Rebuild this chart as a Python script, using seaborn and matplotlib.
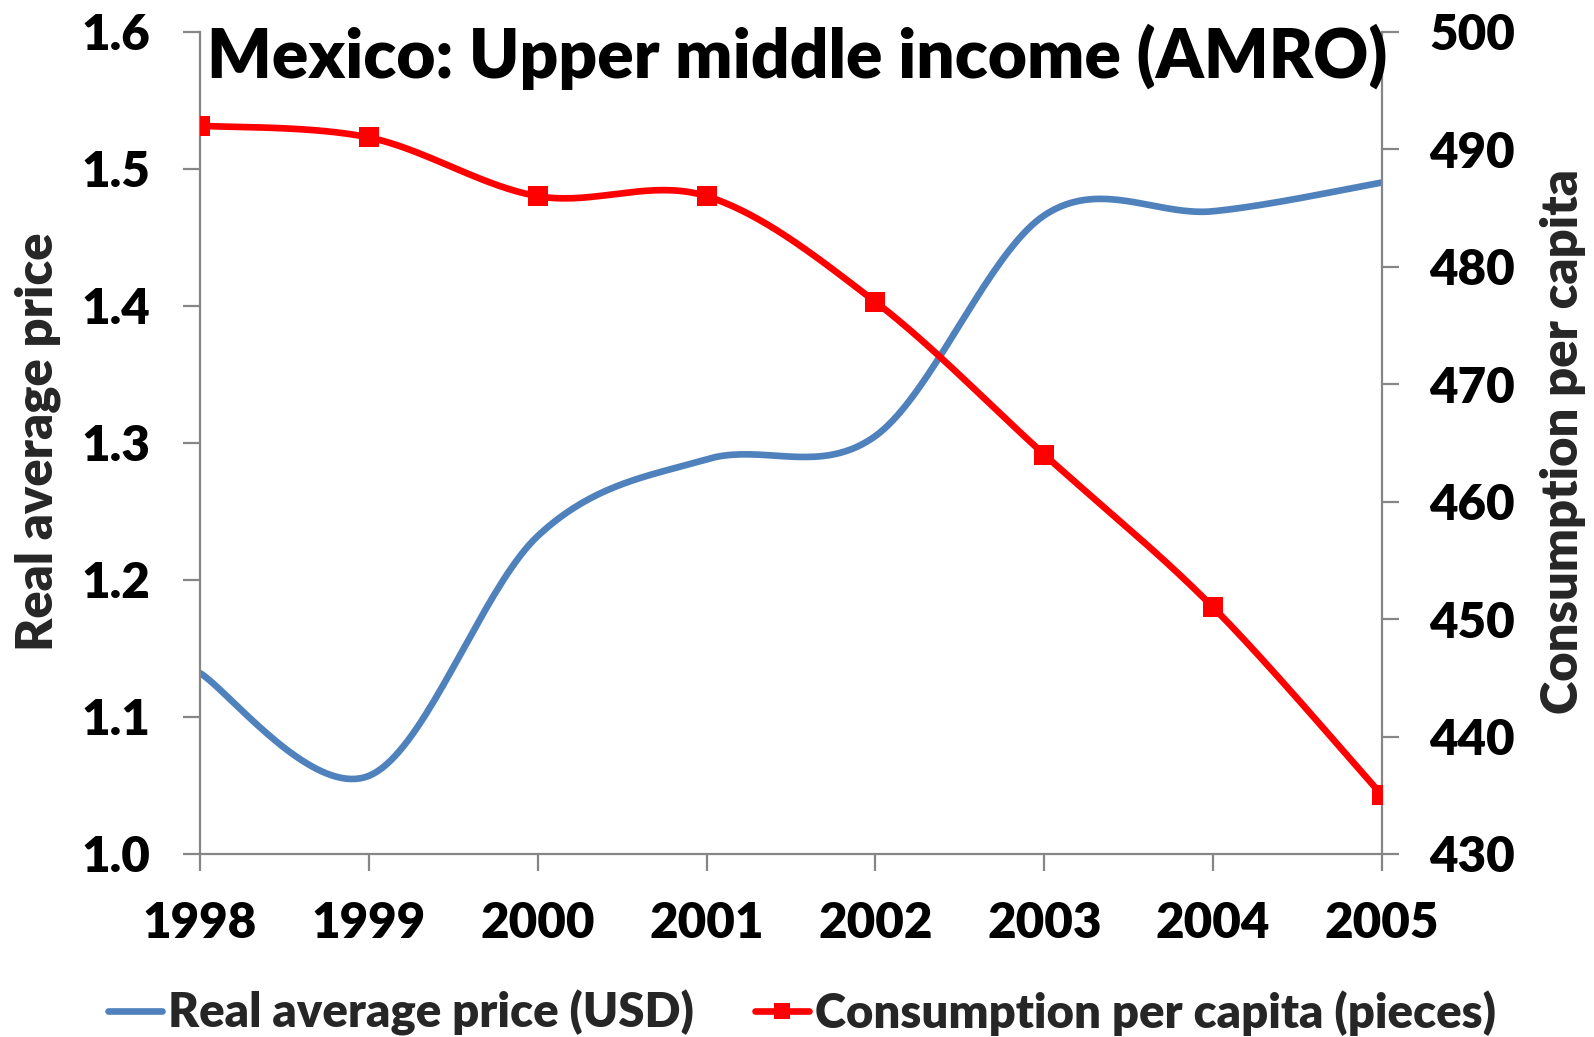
import numpy as np
import pandas as pd
import matplotlib
matplotlib.use("Agg")
import matplotlib.pyplot as plt
import seaborn as sns
from matplotlib.lines import Line2D

# Data
years = ["1998", "1999", "2000", "2001", "2002", "2003", "2004", "2005"]
price = [1.132, 1.057, 1.232, 1.288, 1.305, 1.466, 1.469, 1.490]
consumption = [492, 491, 486, 486, 477, 464, 451, 435]

title = "Mexico: Upper middle income (AMRO)"
price_label = "Real average price (USD)"
cons_label = "Consumption per capita (pieces)"

BLUE = "#4F81BD"
RED = "#FF0000"
GREY = "#868686"
FONT = "Lato"
WEIGHT = "heavy"
FAMILY = [FONT, "DejaVu Sans"]


def smooth_curve(xv, yv, n=40):
    """Cubic Bezier smoothing through every point (Catmull-Rom style)."""
    x = np.asarray(xv, float)
    y = np.asarray(yv, float)
    px = np.concatenate([[x[0]], x, [x[-1]]])
    py = np.concatenate([[y[0]], y, [y[-1]]])
    t = np.linspace(0, 1, n)[:, None]
    out = []
    for i in range(len(x) - 1):
        p_prev = np.array([px[i], py[i]])
        p0 = np.array([px[i + 1], py[i + 1]])
        p3 = np.array([px[i + 2], py[i + 2]])
        p_next = np.array([px[i + 3], py[i + 3]])
        c1 = p0 + (p3 - p_prev) / 6.0
        c2 = p3 - (p_next - p0) / 6.0
        seg = ((1 - t) ** 3) * p0 + 3 * ((1 - t) ** 2) * t * c1 \
            + 3 * (1 - t) * t ** 2 * c2 + t ** 3 * p3
        out.append(seg if i == 0 else seg[1:])
    pts = np.vstack(out)
    return pts[:, 0], pts[:, 1]


sns.set_theme(style="white")
plt.rcParams["font.family"] = FAMILY
plt.rcParams["font.weight"] = WEIGHT

xpos = np.arange(len(years))
df = pd.DataFrame({"pos": xpos, "year": years, "price": price,
                   "consumption": consumption})

sx, sy = smooth_curve(df["pos"], df["price"])
cx, cy = smooth_curve(df["pos"], df["consumption"])

fig = plt.figure(figsize=(15.94, 10.37), dpi=100)
ax = fig.add_axes([0.1255, 0.1765, 0.867 - 0.1255, 0.9694 - 0.1765])
ax2 = ax.twinx()

sns.lineplot(x=sx, y=sy, ax=ax, sort=False, estimator=None,
             color=BLUE, linewidth=4.8, legend=False)
sns.lineplot(x=cx, y=cy, ax=ax2, sort=False, estimator=None,
             color=RED, linewidth=4.8, legend=False)
sns.scatterplot(data=df, x="pos", y="consumption", ax=ax2, marker="s",
                s=190, color=RED, edgecolor=RED, linewidth=0, legend=False,
                zorder=5)

ax.set_xlim(0, len(years) - 1)
ax.set_ylim(1.0, 1.6)
ax2.set_ylim(430, 500)
ax.set_xticks(xpos)
ax.set_xticklabels(years)
ax.set_yticks(np.arange(1.0, 1.61, 0.1))
ax.set_yticklabels([f"{v:.1f}" for v in np.arange(1.0, 1.61, 0.1)])
ax2.set_yticks(np.arange(430, 501, 10))
ax.set_xlabel("")
ax.set_ylabel("")
ax2.set_xlabel("")
ax2.set_ylabel("")

for a in (ax, ax2):
    a.spines["top"].set_visible(False)
    for side in ("left", "bottom", "right"):
        a.spines[side].set_color(GREY)
        a.spines[side].set_linewidth(1.6)
    a.grid(False)

ax.spines["right"].set_visible(False)
ax2.spines["left"].set_visible(False)
ax2.spines["bottom"].set_visible(False)

ax.tick_params(axis="x", direction="out", length=12, width=1.6, color=GREY,
               pad=22, bottom=True)
ax.tick_params(axis="y", direction="out", length=12, width=1.6, color=GREY,
               pad=24, left=True)
ax2.tick_params(axis="y", direction="out", length=12, width=1.6, color=GREY,
                pad=22, right=True)
for lab in ax.get_xticklabels() + ax.get_yticklabels() + ax2.get_yticklabels():
    lab.set_fontsize(35.5)
    lab.set_fontweight(WEIGHT)
    lab.set_color("black")

fig.text(0.5, 1 - 78 / 1037, title, ha="center", va="baseline",
         fontsize=48.7, fontweight=WEIGHT, color="black")
fig.text(38 / 1594, 0.574, "Real average price", rotation=90,
         ha="center", va="center", fontsize=36.5, fontweight=WEIGHT)
fig.text(1563 / 1594, 0.574, "Consumption per capita", rotation=90,
         ha="center", va="center", fontsize=36.5, fontweight=WEIGHT)

handles = [
    Line2D([], [], color=BLUE, linewidth=4.8),
    Line2D([], [], color=RED, linewidth=4.8, marker="s", markersize=11,
           markeredgewidth=0),
]
fig.legend(handles, [price_label, cons_label], loc="center",
           bbox_to_anchor=(0.503, 1 - 1013 / 1037), ncol=2, frameon=False,
           prop=dict(size=34, weight=WEIGHT, family=FAMILY),
           handlelength=1.15, handletextpad=0.12, columnspacing=1.3,
           borderpad=0.0, borderaxespad=0.0)

fig.savefig("out.png", dpi=100, facecolor="white")
